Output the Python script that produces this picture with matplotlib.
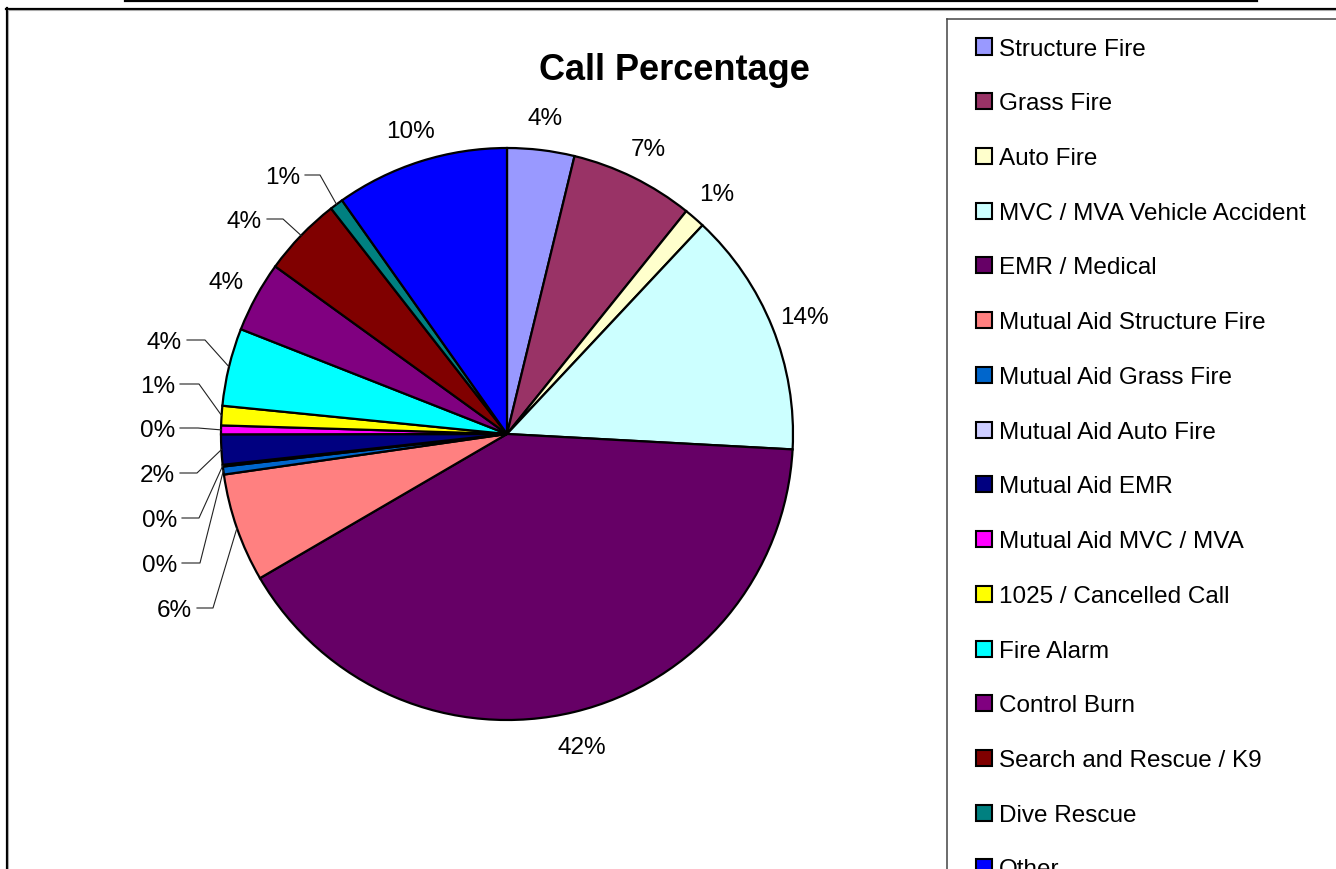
import matplotlib
matplotlib.use("Agg")
import matplotlib.pyplot as plt
from matplotlib.patches import Rectangle
from matplotlib.lines import Line2D
import numpy as np

plt.rcParams['font.family'] = ['Liberation Sans', 'DejaVu Sans']

# ---------------- data ----------------
categories = [
    "Structure Fire", "Grass Fire", "Auto Fire", "MVC / MVA Vehicle Accident",
    "EMR / Medical", "Mutual Aid Structure Fire", "Mutual Aid Grass Fire",
    "Mutual Aid Auto Fire", "Mutual Aid EMR", "Mutual Aid MVC / MVA",
    "1025 / Cancelled Call", "Fire Alarm", "Control Burn",
    "Search and Rescue / K9", "Dive Rescue", "Other",
]
values = [3.8, 7.0, 1.2, 13.9, 40.8, 6.15, 0.45, 0.1, 1.7, 0.5,
          1.1, 4.4, 4.0, 4.5, 0.76, 9.8]
pct_labels = ["4%", "7%", "1%", "14%", "42%", "6%", "0%", "0%", "2%", "0%",
              "1%", "4%", "4%", "4%", "1%", "10%"]
colors = ["#9999FF", "#993366", "#FFFFCC", "#CCFFFF", "#660066", "#FF8080",
          "#0066CC", "#CCCCFF", "#000080", "#FF00FF", "#FFFF00", "#00FFFF",
          "#800080", "#800000", "#008080", "#0000FF"]

# ---------------- layout (pixels) ----------------
W, H = 1336, 869
CX, CY, R = 507, 434, 286          # pie centre / radius in pixels
HALF = 300
TXT_DY = 3                          # text baseline correction (pixels down)
# leader-line labels: index -> (text right x, text centre y, elbow x) in pixels
leader_layout = {
    5: (192, 608, 213),
    6: (177, 563, 200),
    7: (177, 518, 199),
    8: (175, 473, 197),
    9: (175, 428, 198),
    10: (175, 384, 199),
    11: (182, 340, 205),
    13: (262, 219, 283),
    14: (300, 175, 320),
}
label_r = 1.12
FS = 17.5

def px2d(x, y):
    return (x - CX) / R, (CY - y) / R

fig = plt.figure(figsize=(W / 100, H / 100), dpi=100)

def fx(x):
    return x / W

def fy(y):
    return 1 - y / H

# outer frames
fig.add_artist(Line2D([fx(125), fx(1257)], [fy(0.8), fy(0.8)], color='black', lw=1.6))
fig.add_artist(Line2D([fx(6.5), fx(6.5)], [fy(8), fy(H + 5)], color='black', lw=1.6))
fig.add_artist(Line2D([fx(6), fx(W + 5)], [fy(8.5), fy(8.5)], color='black', lw=1.6))
fig.add_artist(Line2D([fx(8.3), fx(8.3)], [fy(10), fy(H + 5)], color='#aaaaaa', lw=0.8))
fig.add_artist(Line2D([fx(8), fx(W + 5)], [fy(10.3), fy(10.3)], color='#aaaaaa', lw=0.8))
# legend box
fig.add_artist(Line2D([fx(947), fx(947)], [fy(19), fy(H + 5)], color='#444444', lw=1.1))
fig.add_artist(Line2D([fx(947), fx(W + 5)], [fy(19), fy(19)], color='#444444', lw=1.1))

# pie axes
ax = fig.add_axes([fx(CX - HALF), fy(CY + HALF), 2 * HALF / W, 2 * HALF / H])
wedges, _ = ax.pie(values, colors=colors, startangle=90, counterclock=False,
                   radius=1.0,
                   wedgeprops=dict(edgecolor='black', linewidth=1.6))
ax.set_xlim(-HALF / R, HALF / R)
ax.set_ylim(-HALF / R, HALF / R)
ax.set_aspect('equal')
ax.axis('off')

for i, w in enumerate(wedges):
    mid = np.deg2rad((w.theta1 + w.theta2) / 2)
    ex, ey = np.cos(mid), np.sin(mid)
    if i in leader_layout:
        trx, ty, elx = leader_layout[i]
        tx, tyd = px2d(trx, ty)
        sx, _ = px2d(trx + 5, ty)
        ex2, _ = px2d(elx, ty)
        ax.text(tx, tyd - TXT_DY / R, pct_labels[i], ha='right', va='center',
                fontsize=FS, color='black')
        ax.add_line(Line2D([sx, ex2, ex], [tyd, tyd, ey], color='#222222',
                           lw=0.8, clip_on=False))
    else:
        ax.text(label_r * ex, label_r * ey - TXT_DY / R, pct_labels[i],
                ha='center', va='center', fontsize=FS, color='black')

# title
fig.text(fx(674), fy(67 + 4), "Call Percentage", ha='center', va='center',
         fontsize=26, fontweight='bold')

# legend (drawn manually)
row0, row_step = 46.5, 54.73
for i, (name, c) in enumerate(zip(categories, colors)):
    yc = row0 + i * row_step
    fig.add_artist(Rectangle((fx(976), fy(yc + 8)), 16 / W, 16 / H,
                             facecolor=c, edgecolor='black', lw=1.5,
                             transform=fig.transFigure))
    fig.text(fx(999), fy(yc + TXT_DY), name, ha='left', va='center',
             fontsize=FS)

fig.savefig("out.png", dpi=100)
